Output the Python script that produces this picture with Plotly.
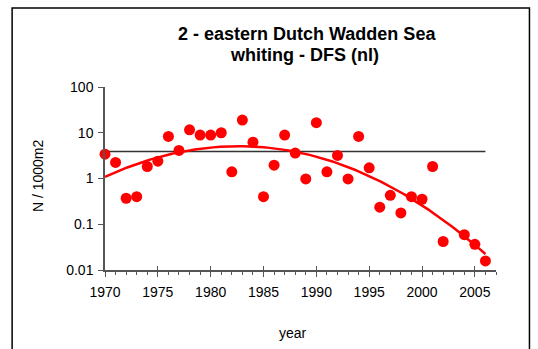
import numpy as np
import plotly.graph_objects as go

years = [1970, 1971, 1972, 1973, 1974, 1975, 1976, 1977, 1978, 1979, 1980,
         1981, 1982, 1983, 1984, 1985, 1986, 1987, 1988, 1989, 1990, 1991,
         1992, 1993, 1994, 1995, 1996, 1997, 1998, 1999, 2000, 2001, 2002,
         2004, 2005, 2006]
density = [3.4, 2.25, 0.37, 0.40, 1.83, 2.39, 8.3, 4.1, 11.6, 8.9, 8.9,
           10.0, 1.40, 18.9, 6.2, 0.40, 1.95, 8.9, 3.6, 0.98, 16.6, 1.40,
           3.2, 0.98, 8.3, 1.71, 0.236, 0.43, 0.177, 0.40, 0.352, 1.83, 0.042,
           0.059, 0.0365, 0.0158]

title_lines = ["2 - eastern Dutch Wadden Sea", "whiting - DFS (nl)"]
y_tickvals = [0.01, 0.1, 1, 10, 100]
y_ticktext = ["0.01", "0.1", "1", "10", "100"]
x_tickvals = [1970, 1975, 1980, 1985, 1990, 1995, 2000, 2005]

# long-term mean level and trend (cubic polynomial fit on log scale)
mean_level = float(np.mean(density))
ref_years = [years[0], years[-1]]
coef = np.polyfit(np.array(years) - 1988, np.log10(density), 3)
tx = np.linspace(years[0], years[-1], 200)
ty = 10 ** np.polyval(coef, tx - 1988)

FONT = "Liberation Sans, Arial, sans-serif"
AX = "#555555"

# plot area in pixels
L, R, T, B = 105, 496.5, 87, 270
PW, PH = R - L, B - T


def px(x):
    return (x - L) / PW


def py(y):
    return (B - y) / PH


fig = go.Figure()
fig.add_trace(go.Scatter(x=ref_years, y=[mean_level] * 2, mode="lines",
                         line=dict(color="#333333", width=1.5), hoverinfo="skip"))
fig.add_trace(go.Scatter(x=years, y=density, mode="markers",
                         marker=dict(color="#ff0000", size=11), cliponaxis=False))
fig.add_trace(go.Scatter(x=tx, y=ty, mode="lines",
                         line=dict(color="#ff0000", width=2.5), cliponaxis=False))
fig.add_trace(go.Scatter(x=[1970], y=[None], xaxis="x2", showlegend=False,
                         hoverinfo="skip"))

fig.update_layout(
    width=538, height=349,
    margin=dict(l=L, r=538 - R, t=T, b=349 - B),
    paper_bgcolor="white", plot_bgcolor="white",
    showlegend=False,
    font=dict(family=FONT, size=14, color="black"),
    xaxis=dict(range=[1970, 2007], tickvals=x_tickvals, showgrid=False,
               zeroline=False, showline=True, linecolor=AX, linewidth=1.5,
               ticks="outside", ticklen=5, tickcolor=AX,
               minor=dict(dtick=1, ticks="outside", ticklen=3, tickcolor=AX),
               tickfont=dict(size=14), ticklabelstandoff=3),
    xaxis2=dict(range=[1970, 2007], tickvals=x_tickvals, overlaying="x",
                anchor="y", side="bottom", showgrid=False, zeroline=False,
                showline=False, ticks="inside", ticklen=4, tickcolor=AX,
                showticklabels=False),
    yaxis=dict(type="log", range=[-2, 2], tickvals=y_tickvals, ticktext=y_ticktext,
               showgrid=False, zeroline=False, showline=True, linecolor=AX,
               linewidth=1.5, ticks="outside", ticklen=5, tickcolor=AX,
               tickfont=dict(size=14), ticklabelstandoff=2),
    shapes=[dict(type="rect", xref="paper", yref="paper",
                 x0=px(12), x1=px(530), y0=py(360), y1=py(8),
                 line=dict(color="black", width=1.5))],
    annotations=[
        dict(text="<b>" + title_lines[0] + "</b>", xref="paper", yref="paper",
             x=px(307), y=py(34), showarrow=False,
             font=dict(size=18), xanchor="center", yanchor="middle"),
        dict(text="<b>" + title_lines[1] + "</b>", xref="paper", yref="paper",
             x=px(305), y=py(55), showarrow=False,
             font=dict(size=18), xanchor="center", yanchor="middle"),
        dict(text="N / 1000m2", xref="paper", yref="paper", textangle=-90,
             x=px(38), y=py(176), showarrow=False,
             font=dict(size=14), xanchor="center", yanchor="middle"),
        dict(text="year", xref="paper", yref="paper",
             x=px(293), y=py(333), showarrow=False,
             font=dict(size=14), xanchor="center", yanchor="middle"),
    ],
)

fig.write_html("out.html", config={"displayModeBar": False},
               post_script="document.body.style.margin='0';document.body.style.overflow='hidden';")
